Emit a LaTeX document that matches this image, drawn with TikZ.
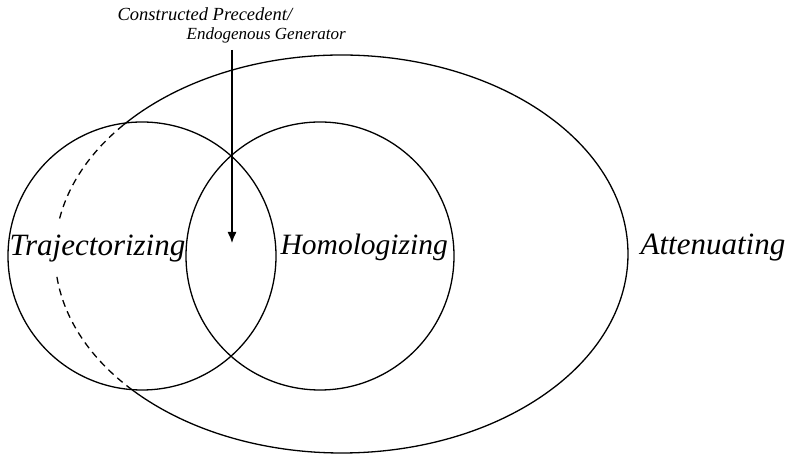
\documentclass[tikz,border=0pt]{standalone}
\usepackage{fontspec}
\setmainfont{Liberation Serif}
\usetikzlibrary{arrows.meta}
\begin{document}
\begin{tikzpicture}[x=1pt,y=1pt,line width=1.3pt,
  bigword/.style={font=\fontsize{31}{36}\selectfont\itshape,anchor=base west,inner sep=0pt},
  smallword/.style={font=\fontsize{17.5}{20}\selectfont\itshape,anchor=base west,inner sep=0pt},
  ring/.style={circle,draw,minimum size=268pt,inner sep=0pt}]
\useasboundingbox (0,0) rectangle (790,457);

% the two overlapping circles
\node[ring] (traj) at (142,201) {};
\node[ring] (homo) at (320,201) {};

% the large ellipse: solid outside the left circle, dashed inside it
\coordinate (ec) at (341.5,203);
\draw ([shift={(223.1:286.5 and 199)}]ec) arc[start angle=223.1,end angle=499.6,x radius=286.5,y radius=199];
\draw[dash pattern=on 7pt off 5pt] ([shift={(139.6:286.5 and 199)}]ec) arc[start angle=139.6,end angle=170.2,x radius=286.5,y radius=199];
\draw[dash pattern=on 7pt off 5pt] ([shift={(186.6:286.5 and 199)}]ec) arc[start angle=186.6,end angle=223.1,x radius=286.5,y radius=199];

% labels
\node[bigword] (tlabel) at (9,201) {Trajectorizing};
\node[bigword,font=\fontsize{29.5}{36}\selectfont\itshape] (hlabel) at (280,202) {Homologizing};
\node[bigword] (alabel) at (640,202) {Attenuating};
\node[smallword,font=\fontsize{18.5}{20}\selectfont\itshape] (cp1) at (117,436) {Constructed Precedent/};
\node[smallword,font=\fontsize{17}{20}\selectfont\itshape] (cp2) at (186,417) {Endogenous Generator};

% arrow into the overlap
\coordinate (src) at (232,407);
\coordinate (tip) at (232,214);
\draw[-{Latex[length=11pt,width=9pt]}] (src) -- (tip);
\end{tikzpicture}
\end{document}
